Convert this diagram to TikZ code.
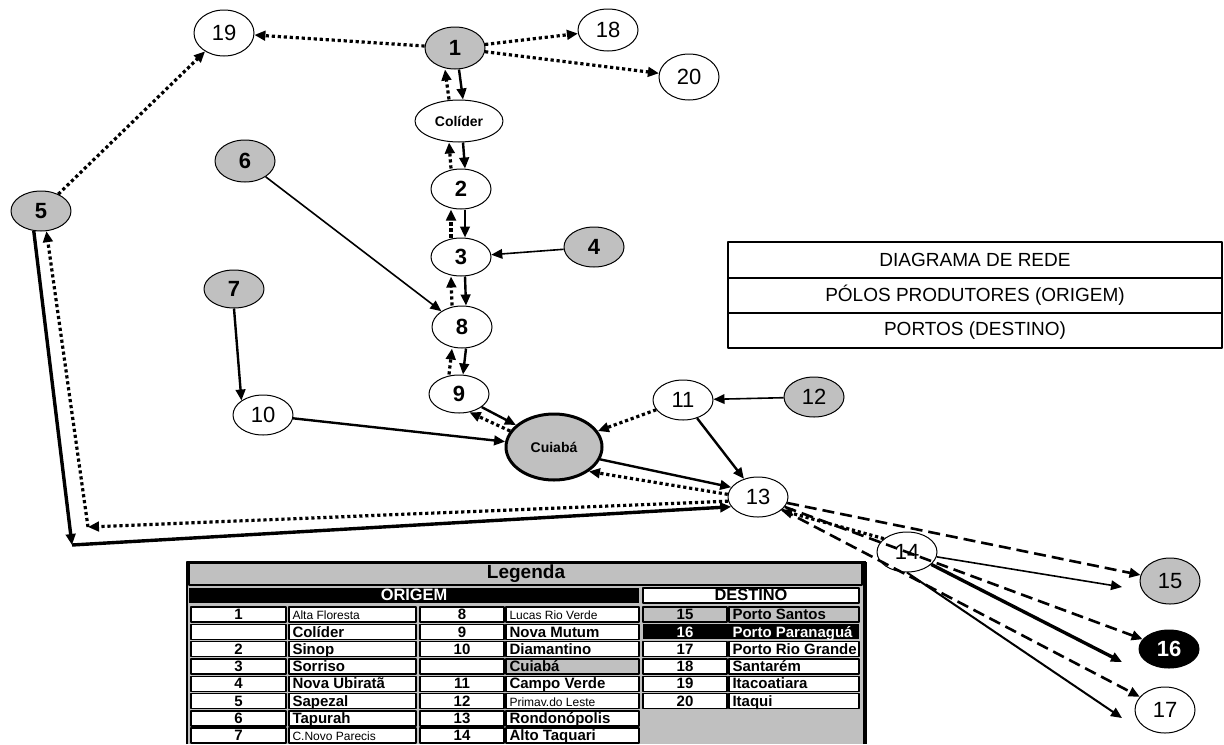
\documentclass[tikz,border=0pt]{standalone}
\usepackage{fontspec}
\setmainfont{Liberation Sans}
\usetikzlibrary{shapes.geometric,arrows.meta}
\definecolor{gris}{RGB}{192,192,192}
\newcommand\nfont{\fontsize{11}{12}\selectfont}
\newcommand\bnum{\fontsize{11}{12}\selectfont\bfseries}
\newcommand\lbl{\fontsize{7}{8}\selectfont\bfseries}
\newcommand\tabh{\fontsize{9.5}{10}\selectfont\bfseries}
\newcommand\tabo{\fontsize{8.2}{9}\selectfont\bfseries}
\newcommand\tabb{\fontsize{7.5}{8}\selectfont\bfseries}
\newcommand\tabs{\fontsize{6}{7}\selectfont\mdseries}
\tikzset{every picture/.style={line width=0.5pt}}

\begin{document}
\begin{tikzpicture}[x=0.5pt, y=-0.5pt, line join=round, >={Triangle[length=5.5pt,width=4.8pt]},
  nd/.style={ellipse, draw, fill=white, minimum width=30pt, minimum height=21pt, inner sep=0pt, font=\nfont},
  gnd/.style={nd, fill=gris, font=\bnum},
  wnd/.style={nd, font=\bnum},
  sline/.style={line width=0.8pt},
  mline/.style={line width=1.2pt},
  tline/.style={line width=1.7pt},
  dline/.style={line width=1.6pt, dash pattern=on 1.6pt off 1.4pt},
  kline/.style={line width=1.3pt, dash pattern=on 6pt off 3pt},
  cell/.style={draw, fill=white, line width=0.7pt},
  tx/.style={font=\tabb, inner sep=0pt}]
\useasboundingbox (0,0) rectangle (1224,744);

% titulo
\draw[line width=1pt] (728,242) rectangle (1222,348) (728,278) -- (1222,278) (728,313) -- (1222,313);
\node[font=\fontsize{9.5}{10}\selectfont] (t1) at (975,260) {DIAGRAMA DE REDE};
\node[font=\fontsize{9.5}{10}\selectfont] (t2) at (975,295.5) {PÓLOS PRODUTORES (ORIGEM)};
\node[font=\fontsize{9.5}{10}\selectfont] (t3) at (975,330.5) {PORTOS (DESTINO)};

% legenda
\fill[gris] (187,562) rectangle (866,744);
\draw[line width=0.8pt] (187,744) -- (187,562) -- (866,562);
\draw[line width=2pt] (865,562) -- (865,744);
\draw[cell, fill=gris] (189,563) rectangle (862,585);
\node[font=\tabh] (leg) at (526,574) {Legenda};
\fill (189,588) rectangle (639,603);
\node[font=\tabo, text=white, inner sep=0pt, anchor=mid] (org) at (414,595.5) {ORIGEM};
\draw[cell] (643,588) rectangle (859,603);
\node[font=\tabo, inner sep=0pt, anchor=mid] (dst) at (751,595.5) {DESTINO};
\foreach \i/\a/\b/\c/\d/\cf in {1/1/\tabs Alta Floresta/8/\tabs Lucas Rio Verde/white,
    2/{}/Colíder/9/Nova Mutum/white, 3/2/Sinop/10/Diamantino/white, 4/3/Sorriso/{}/Cuiabá/gris,
    5/4/Nova Ubiratã/11/Campo Verde/white, 6/5/Sapezal/12/\tabs Primav.do Leste/white,
    7/6/Tapurah/13/Rondonópolis/white, 8/7/\tabs C.Novo Parecis/14/Alto Taquari/white}{
  \pgfmathsetmacro\yt{607+(\i-1)*17.3}
  \pgfmathsetmacro\ym{\yt+7.5}
  \draw[cell] (191,\yt) rectangle (286,{\yt+15}) (289,\yt) rectangle (416,{\yt+15})
    (420,\yt) rectangle (504,{\yt+15});
  \draw[cell, fill=\cf] (506,\yt) rectangle (639,{\yt+15});
  \node[tx, anchor=mid] (oa\i) at (238.5,\ym) {\a};
  \node[tx, anchor=mid west] (ob\i) at (292,\ym) {\b};
  \node[tx, anchor=mid] (oc\i) at (462,\ym) {\c};
  \node[tx, anchor=mid west] (od\i) at (509,\ym) {\d};
}
\draw[cell, fill=gris] (643,607) rectangle (727,622) (729,607) rectangle (859,622);
\node[tx, anchor=mid] (de1) at (685,614.5) {15};
\node[tx, anchor=mid west] (df1) at (732,614.5) {Porto Santos};
\fill (643,624.3) rectangle (859,639.3);
\node[tx, anchor=mid, text=white] (de2) at (685,631.8) {16};
\node[tx, anchor=mid west, text=white] (df2) at (732,631.8) {Porto Paranaguá};
\foreach \i/\e/\f in {3/17/Porto Rio Grande, 4/18/Santarém, 5/19/Itacoatiara, 6/20/Itaqui}{
  \pgfmathsetmacro\yt{607+(\i-1)*17.3}
  \pgfmathsetmacro\ym{\yt+7.5}
  \draw[cell] (643,\yt) rectangle (727,{\yt+15}) (729,\yt) rectangle (859,{\yt+15});
  \node[tx, anchor=mid] (de\i) at (685,\ym) {\e};
  \node[tx, anchor=mid west] (df\i) at (732,\ym) {\f};
}

% nos
\node[nd, minimum height=23pt] (n19) at (224,33) {19};
\node[gnd] (n1) at (455,48) {1};
\node[nd] (n18) at (608,30) {18};
\node[nd, minimum height=23pt] (n20) at (689,77) {20};
\node[nd, minimum width=44pt, font=\lbl] (col) at (459,121) {Colíder};
\node[wnd, minimum height=20pt] (n2) at (461,189) {2};
\node[wnd, minimum height=19pt] (n3) at (461,257) {3};
\node[gnd, minimum height=20pt] (n4) at (594,247) {4};
\node[wnd] (n8) at (462,327) {8};
\node[wnd, minimum height=19pt] (n9) at (459,394) {9};
\node[gnd] (n6) at (245,161) {6};
\node[gnd, minimum height=20pt] (n5) at (41,211) {5};
\node[gnd, minimum height=19pt] (n7) at (234,289) {7};
\node[nd, minimum height=20pt] (n10) at (263,415) {10};
\node[nd, minimum width=48pt, minimum height=33pt, fill=gris, line width=1.5pt, font=\lbl] (cu) at (554,447) {Cuiabá};
\node[nd, minimum height=20pt] (n11) at (683,400) {11};
\node[gnd, font=\nfont, minimum height=20pt] (n12) at (814,397) {12};
\node[nd, minimum height=20pt] (n13) at (758,497) {13};
\node[nd, minimum height=20pt] (n14) at (907,552) {14};
\node[gnd, font=\nfont, minimum height=23pt] (n15) at (1170,581) {15};
\node[nd, fill=black, text=white, font=\bnum, minimum height=19pt] (n16) at (1169,649) {16};
\node[nd, minimum height=23pt] (n17) at (1165,710) {17};
\coordinate (cs) at (72,545);
\coordinate (cd) at (88,527);
\coordinate (a15) at (1122,587);
\coordinate (a16) at (1122,662);
\coordinate (a17) at (1122,718);

% ligacoes
\draw[dline,->] (n1) -- (n19);
\draw[dline,->] (n1) -- (n18);
\draw[dline,->] (n1) -- (n20);
\draw[dline,->] (n5) -- (n19);
\foreach \a/\b in {n1/col, col/n2, n2/n3, n3/n8, n8/n9}{
  \draw[mline,->] ([xshift=2pt]\a.south) -- ([xshift=2pt]\b.north);
  \draw[dline,->] ([xshift=-5pt]\b.north) -- ([xshift=-5pt]\a.south);
}
\draw[sline,->] (n4) -- (n3);
\draw[sline,->] (n6) -- (n8);
\draw[mline,->] (n7.south) -- (n10.north west);
\draw[mline,->] (n10) -- (cu);
\draw[mline,->] (n9.-30) -- (cu.150);
\draw[dline,->] (cu.160) -- (n9.-60);
\draw[dline,->] (n11) -- (cu);
\draw[sline,->] (n12) -- (n11);
\draw[mline,->] (n11) -- (n13);
\draw[mline,->] (cu.-15) -- (n13.160);
\draw[dline,->] (n13.175) -- (cu.-35);
\draw[tline,->] (n5.-110) -- (cs);
\draw[tline,->] (cs) -- (n13.200);
\draw[dline,->] (n13.188) -- (cd);
\draw[dline,->] (cd) -- (n5.-75);
\draw[dline,->] (n14.150) -- (n13.-30);
\draw[kline,->] (n13) -- (n15);
\draw[kline,->] (n13) -- (n16);
\draw[kline,->] (n13) -- (n17);
\draw[sline,->] (n14) -- (a15);
\draw[tline,->] (n14) -- (a16);
\draw[line width=1pt,->] (n14.south) -- (a17);
\end{tikzpicture}
\end{document}
